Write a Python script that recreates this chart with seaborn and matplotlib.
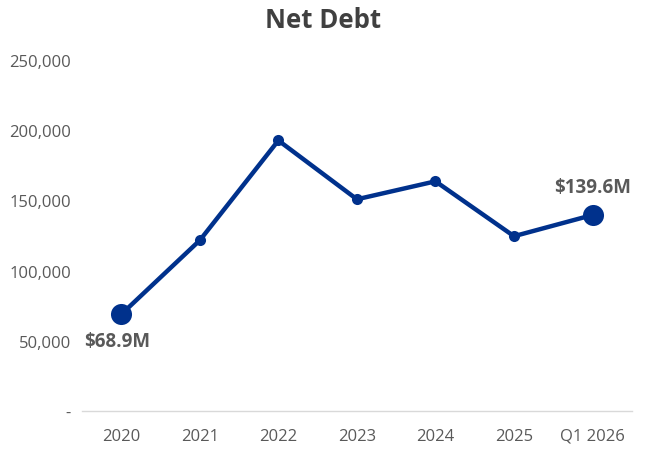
import matplotlib
matplotlib.use("Agg")
import matplotlib.pyplot as plt
import seaborn as sns
import pandas as pd
from matplotlib.ticker import FuncFormatter

categories = ["2020", "2021", "2022", "2023", "2024", "2025", "Q1 2026"]
net_debt = [68900, 121600, 192700, 150800, 163600, 124500, 139600]
labels = {0: "$68.9M", 6: "$139.6M"}

sns.set_theme(style="white")
plt.rcParams['font.family'] = ['Open Sans', 'DejaVu Sans']

df = pd.DataFrame({"period": categories, "value": net_debt})
color = "#00318C"
gray = "#595959"

fig = plt.figure(figsize=(6.46, 4.52), dpi=100)
ax = fig.add_axes([0.127, 0.0885, 0.851, 0.7765])

sns.lineplot(data=df, x="period", y="value", ax=ax, color=color, linewidth=3.2,
             marker="o", markersize=8, markeredgewidth=0, sort=False)
big = df.iloc[[0, 6]]
sns.scatterplot(data=big, x="period", y="value", ax=ax, color=color, s=230,
                linewidth=0, zorder=5, legend=False)

ax.set_xlim(-0.5, 6.5)
ax.set_ylim(0, 250000)
ax.set_yticks(range(0, 250001, 50000))
ax.yaxis.set_major_formatter(FuncFormatter(lambda v, p: "-" if v == 0 else f"{int(v):,}"))
ax.set_xlabel("")
ax.set_ylabel("")
for s in ["top", "right", "left"]:
    ax.spines[s].set_visible(False)
ax.spines["bottom"].set_color("#D9D9D9")
ax.spines["bottom"].set_linewidth(1.0)
ax.tick_params(axis="both", length=0, labelsize=12, colors=gray, pad=8)
ax.tick_params(axis="x", pad=12)

ax.annotate(labels[0], (0, net_debt[0]), xytext=(-3, -19), textcoords="offset points",
            ha="center", va="center", fontsize=13.5, fontweight="bold", color=gray)
ax.annotate(labels[6], (6, net_debt[6]), xytext=(0, 20), textcoords="offset points",
            ha="center", va="center", fontsize=13.5, fontweight="bold", color=gray)

fig.suptitle("Net Debt", x=0.5, y=0.985, fontsize=18.5, fontweight="bold", color="#404040", va="top")

fig.savefig("out.png", dpi=100)
